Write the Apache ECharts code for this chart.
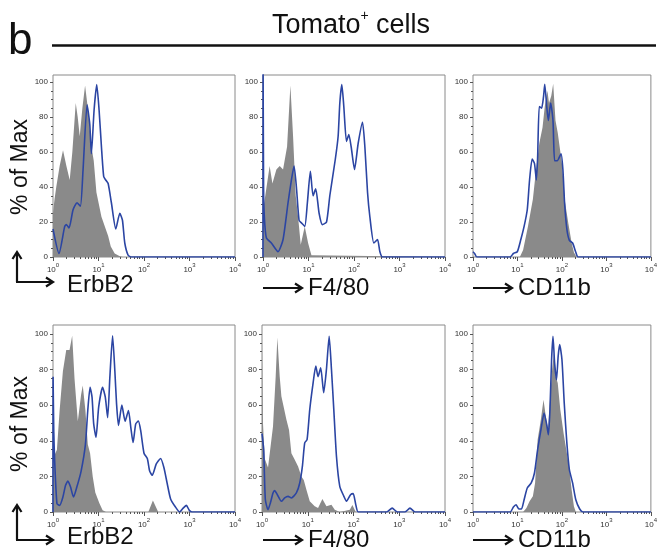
<!DOCTYPE html>
<html lang="en">
<head>
<meta charset="UTF-8">
<title>Tomato+ cells</title>
<script src="https://cdn.jsdelivr.net/npm/echarts@6/dist/echarts.min.js"></script>
</head>
<body style="margin: 0; padding: 0; background: #fff">
<div id="main" style="width: 660px; height: 551px;"></div>
<script>
// tick values
var majorX = [1, 10, 100, 1000, 10000];
var minorX = [2, 3, 4, 5, 6, 7, 8, 9, 20, 30, 40, 50, 60, 70, 80, 90,
    200, 300, 400, 500, 600, 700, 800, 900, 2000, 3000, 4000, 5000, 6000, 7000, 8000, 9000];
var majorY = [0, 20, 40, 60, 80, 100];
var minorY = [5, 10, 15, 25, 30, 35, 45, 50, 55, 65, 70, 75, 85, 90, 95];

// top row: [fluorescence, % of max]
var erbb2CtrlA = [[1.0, 25], [1.08, 33], [1.18, 40], [1.4, 52], [1.66, 61], [1.97, 52], [2.33, 44], [2.66, 60],
    [3.16, 88], [3.49, 80], [3.87, 69], [4.42, 85], [5.07, 98], [5.89, 84], [6.98, 63], [7.86, 55], [8.99, 37],
    [11.6, 23], [14.4, 16], [16.3, 12], [18.6, 6], [22.7, 2], [29.4, 0.5], [34.6, 0], [10000, 0]];
var erbb2StainA = [[1.0, 16], [1.355, 2], [1.807, 17.5], [1.966, 18.5], [2.25, 16.6], [2.76, 27], [3.38, 31],
    [4.0, 29], [4.58, 50], [5.61, 87], [6.42, 76], [6.98, 59], [8.0, 84], [9.15, 98.5], [10.3, 84], [11.6, 63],
    [13.0, 46], [14.4, 44], [16.3, 42], [19.2, 31], [24.0, 16], [29.4, 25], [33.6, 21], [37.8, 8], [44.8, 1],
    [53.1, 0], [10000, 0]];
var f480CtrlA = [[1.0, 20], [1.05, 30], [1.145, 31], [1.4, 52], [1.61, 42], [1.97, 50], [2.33, 52], [2.76, 50],
    [3.38, 63], [4.0, 98], [4.58, 69], [5.24, 35], [5.9, 23], [6.75, 7], [8.27, 17.5], [9.8, 8], [11.6, 1],
    [12.6, 0], [10000, 0]];
var f480StainA = [[1.0, 0], [1.004, 110], [1.03, 40], [1.07, 23], [1.184, 11], [1.526, 8], [2.14, 3], [2.76, 10],
    [3.55, 31], [4.21, 44], [4.81, 52], [5.42, 40], [6.2, 21], [6.98, 19.5], [8.27, 17.5], [9.45, 31], [11.0, 49],
    [12.6, 35], [14.4, 39], [17.1, 25], [20.2, 18.5], [24.9, 20], [29.4, 35], [38.9, 56], [44.8, 69], [48.8, 88],
    [54.0, 98.5], [59.7, 86], [68.4, 66], [77.0, 70], [86.6, 63], [102.6, 50], [123.6, 65], [153.9, 77],
    [173.3, 63], [198.3, 37], [223.2, 23], [273.4, 8], [329, 10], [370.7, 3], [424, 0], [10000, 0]];
var cd11bCtrlA = [[1, 0], [11.3, 0], [13.4, 4], [17.2, 17.5], [22.2, 33], [26.2, 50], [31.0, 65], [36.6, 74],
    [41.1, 86], [47.1, 95], [51.2, 88], [57.5, 92], [63.6, 99], [71.6, 78], [80.4, 71], [88.9, 70], [100, 53.5],
    [118, 31], [139.8, 19], [165.3, 8], [185.7, 2.7], [212.5, 0], [10000, 0]];
var cd11bStainA = [[1.0, 3], [1.087, 2], [1.22, 0], [6.85, 0], [8.1, 2], [9.9, 3], [11.9, 10], [14.1, 17.5],
    [16.6, 27], [18.7, 44], [21.4, 56], [24.1, 53.5], [26.6, 44], [28.4, 57], [30.9, 86], [34.8, 85], [38.5, 91.5],
    [41.1, 98.7], [45.5, 86], [49.5, 78], [55.7, 88], [62.9, 78], [68.4, 55], [78.2, 55], [95.3, 59], [105.1, 50],
    [114.6, 31], [128.9, 16], [146.9, 9.5], [173.7, 8], [205, 2.7], [230.8, 0], [10000, 0]];

// bottom row
var erbb2CtrlB = [[1.0, 30], [1.087, 31], [1.22, 35], [1.398, 57], [1.65, 79], [1.954, 91], [2.31, 91], [2.64, 99],
    [2.97, 75], [3.51, 51], [4.15, 66], [4.51, 71], [5.16, 57], [5.81, 38], [6.53, 33], [7.46, 20], [8.5, 11],
    [10.4, 5], [12.3, 1], [14.6, 0], [124.4, 0], [157, 6.5], [205.5, 0], [10000, 0]];
var erbb2StainB = [[1.0, 0], [1.004, 76], [1.04, 45], [1.087, 29], [1.222, 4.7], [1.398, 3.7], [1.65, 8.4],
    [1.889, 15], [2.125, 17.4], [2.43, 14], [2.82, 8.4], [3.34, 14], [4.15, 23], [5.16, 38], [5.81, 57], [6.53, 70],
    [7.21, 64.5], [7.84, 49.5], [8.82, 42], [10.1, 59], [12.3, 70], [14.1, 64.5], [15.9, 53], [17.8, 76], [20.4, 99],
    [22.9, 79], [24.9, 61], [27.5, 48.6], [32.6, 60], [38.5, 51], [45.5, 57], [51.2, 47.7], [57.5, 39], [65.8, 49.5],
    [75.1, 51], [84.5, 45.8], [100, 33], [118.3, 30], [133.1, 23], [151.7, 20.6], [186.1, 27], [231.3, 30],
    [273.6, 25], [323.6, 16], [382.8, 7.5], [491.8, 2.8], [611, 0], [710, 1.9], [852, 3.7], [991, 0.9], [1136, 0],
    [10000, 0]];
var f480CtrlB = [[1.0, 95], [1.05, 50], [1.144, 30], [1.353, 25], [1.472, 25.6], [1.74, 48], [1.99, 76],
    [2.166, 98], [2.44, 76], [2.65, 65], [2.98, 59], [3.41, 52], [3.9, 46], [4.39, 33], [5.2, 29.4], [6.15, 25.6],
    [7.26, 20], [8.18, 18], [9.35, 12.5], [11.06, 6], [14.2, 3.2], [16.8, 2.2], [20.9, 7.3], [25.6, 3.2], [32.9, 4.1],
    [38.9, 1.3], [50.1, 0], [83, 1.3], [94.6, 4], [112, 0], [10000, 0]];
var f480StainB = [[1.0, 44], [1.088, 35], [1.183, 7], [1.353, 1.3], [1.522, 5], [1.74, 10.7], [1.893, 12],
    [2.166, 9.7], [2.65, 6], [3.13, 7.9], [3.71, 8.8], [4.39, 7.9], [5.64, 10.7], [6.68, 16.3], [7.63, 25.6],
    [8.58, 38.8], [9.66, 40.6], [11.06, 57.5], [13.1, 72.5], [14.98, 82], [16.8, 76], [19.2, 81], [22.3, 67],
    [25.6, 80], [29.4, 98.7], [33.0, 80], [37.1, 57.5], [42.5, 31], [50.1, 14.4], [61.6, 8.8], [70.2, 6], [86.1, 9.7],
    [98.4, 10.3], [112.4, 4], [127, 0], [529, 0], [700, 2.2], [908, 0], [1331, 0], [1713, 2.2], [2216, 0], [10000, 0]];
var cd11bCtrlB = [[1, 0], [13.4, 0], [15.9, 2.2], [18.7, 6], [22.2, 8.8], [24.9, 16.3], [28.4, 40.6], [33.6, 52],
    [38.5, 63], [43.3, 53.7], [48.7, 46], [53.8, 63], [60.2, 80], [66.0, 89], [72.8, 76], [80.4, 72.5], [91.8, 57.5],
    [108.7, 44.4], [128.9, 33], [146.9, 23.8], [165.3, 12.5], [185.7, 3.2], [205, 0], [10000, 0]];
var cd11bStainB = [[1, 0], [6.85, 0], [8.1, 2.8], [9.27, 4.1], [10.8, 1.7], [12.3, 1.7], [14.1, 6.9], [16.6, 13.5],
    [20.4, 16.3], [24.1, 21.9], [28.4, 35], [33.6, 46], [39.7, 55.6], [45.5, 49], [49.5, 43.4], [53.8, 57.5],
    [58.5, 85.6], [62.9, 98.7], [68.4, 83.7], [75.4, 74.3], [82.3, 87.5], [88.9, 94], [100, 85.6], [112.6, 61.2],
    [128.9, 38.8], [146.9, 23.8], [173.7, 16.3], [205, 6.9], [251, 1.7], [297.6, 0], [10000, 0]];

var GRAY = '#8a8a8a';
var BLUE = '#2b45a3';

var panels = [
    {box: [53, 75, 182, 182], ymax: 104, ctrl: erbb2CtrlA, stain: erbb2StainA},
    {box: [263, 75, 182, 182], ymax: 104, ctrl: f480CtrlA, stain: f480StainA},
    {box: [473, 75, 184, 182], ymax: 104, ctrl: cd11bCtrlA, stain: cd11bStainA},
    {box: [53, 325, 182, 187], ymax: 105, ctrl: erbb2CtrlB, stain: erbb2StainB},
    {box: [262, 325, 183, 187], ymax: 105, ctrl: f480CtrlB, stain: f480StainB},
    {box: [473, 325, 185, 187], ymax: 105, ctrl: cd11bCtrlB, stain: cd11bStainB}
];

var grid = [], xAxis = [], yAxis = [], series = [];
panels.forEach(function (p, i) {
    grid.push({
        left: p.box[0], top: p.box[1], width: p.box[2], height: p.box[3],
        show: true, borderColor: '#8a8a8a', borderWidth: 1, backgroundColor: 'transparent'
    });
    xAxis.push({
        gridIndex: i, type: 'log', logBase: 10, min: 1, max: 10000, position: 'bottom',
        axisLine: {show: false}, splitLine: {show: false},
        axisTick: {length: 4, customValues: majorX, lineStyle: {color: '#555'}},
        axisLabel: {
            customValues: majorX, margin: 5, color: '#333',
            formatter: function (v) {
                return '{b|10}{s|' + Math.round(Math.log(v) / Math.LN10) + '}';
            },
            rich: {
                b: {fontSize: 8, fontFamily: 'Liberation Sans', color: '#333', lineHeight: 12, verticalAlign: 'bottom'},
                s: {fontSize: 6, fontFamily: 'Liberation Sans', color: '#333', lineHeight: 12, verticalAlign: 'top', padding: [0, 0, 4, 0]}
            }
        }
    });
    xAxis.push({
        gridIndex: i, type: 'log', logBase: 10, min: 1, max: 10000, position: 'bottom',
        axisLine: {show: false}, splitLine: {show: false}, axisLabel: {show: false},
        axisTick: {length: 2, customValues: minorX, lineStyle: {color: '#555'}}
    });
    yAxis.push({
        gridIndex: i, type: 'value', min: 0, max: p.ymax, position: 'left',
        axisLine: {show: false}, splitLine: {show: false},
        axisTick: {length: 3, customValues: majorY, lineStyle: {color: '#555'}},
        axisLabel: {customValues: majorY, margin: 5, fontSize: 8, fontFamily: 'Liberation Sans', color: '#333'}
    });
    yAxis.push({
        gridIndex: i, type: 'value', min: 0, max: p.ymax, position: 'left',
        axisLine: {show: false}, splitLine: {show: false}, axisLabel: {show: false},
        axisTick: {length: 2, customValues: minorY, lineStyle: {color: '#555'}}
    });
    series.push({
        type: 'line', xAxisIndex: 2 * i, yAxisIndex: 2 * i, data: p.ctrl,
        showSymbol: false, silent: true, z: 2,
        lineStyle: {opacity: 0}, itemStyle: {color: GRAY},
        areaStyle: {color: GRAY, opacity: 1}
    });
    series.push({
        type: 'line', xAxisIndex: 2 * i, yAxisIndex: 2 * i, data: p.stain,
        showSymbol: false, silent: true, z: 3, smooth: 0.2,
        lineStyle: {color: BLUE, width: 1.6}, itemStyle: {color: BLUE}
    });
});

// graphic bits: title, rule, y titles, axis arrows
var graphic = [
    {type: 'text', left: 8, top: 20, style: {text: 'b', font: '44px "Liberation Sans"', fill: '#111'}},
    {type: 'line', shape: {x1: 52, y1: 45.5, x2: 656, y2: 45.5}, style: {stroke: '#111', lineWidth: 2.5}},
    {type: 'text', x: 351, y: 26, style: {
        text: 'Tomato{s|+} cells', font: '27px "Liberation Sans"', fill: '#111', align: 'center', verticalAlign: 'middle',
        rich: {s: {fontSize: 14, fontFamily: 'Liberation Sans', fill: '#111', padding: [0, 0, 20, 0]}}
    }}
];
function yTitle(cy) {
    graphic.push({type: 'text', x: 21, y: cy, rotation: Math.PI / 2, style: {
        text: '% of Max', font: '23px "Liberation Sans"', fill: '#111', align: 'center', verticalAlign: 'middle'
    }});
}
function hArrow(x1, x2, y) {
    graphic.push({type: 'line', shape: {x1: x1, y1: y, x2: x2 - 1, y2: y}, style: {stroke: '#111', lineWidth: 2.2}});
    graphic.push({type: 'polyline', shape: {points: [[x2 - 7, y - 4.5], [x2, y], [x2 - 7, y + 4.5]]}, style: {stroke: '#111', lineWidth: 2.2, fill: null}});
}
function vArrow(x, y1, y2) {
    graphic.push({type: 'line', shape: {x1: x, y1: y1, x2: x, y2: y2 + 1}, style: {stroke: '#111', lineWidth: 2.2}});
    graphic.push({type: 'polyline', shape: {points: [[x - 4.5, y2 + 7], [x, y2], [x + 4.5, y2 + 7]]}, style: {stroke: '#111', lineWidth: 2.2, fill: null}});
}
function axisName(txt, x, cy) {
    graphic.push({type: 'text', x: x, y: cy, style: {
        text: txt, font: '24px "Liberation Sans"', fill: '#111', align: 'left', verticalAlign: 'middle'
    }});
}
yTitle(167);
yTitle(424);
vArrow(17, 282, 252);
hArrow(16, 53, 282);
hArrow(263, 302, 288);
hArrow(473, 512, 288);
vArrow(17, 540, 505);
hArrow(16, 53, 540);
hArrow(263, 302, 540);
hArrow(473, 512, 540);
axisName('ErbB2', 67, 285);
axisName('F4/80', 308, 288);
axisName('CD11b', 518, 288);
axisName('ErbB2', 67, 537);
axisName('F4/80', 308, 540);
axisName('CD11b', 518, 540);

var myChart = echarts.init(document.getElementById('main'));
myChart.setOption({
    animation: false,
    backgroundColor: '#fff',
    textStyle: {fontFamily: 'Liberation Sans'},
    grid: grid,
    xAxis: xAxis,
    yAxis: yAxis,
    series: series,
    graphic: graphic
});
</script>
</body>
</html>
